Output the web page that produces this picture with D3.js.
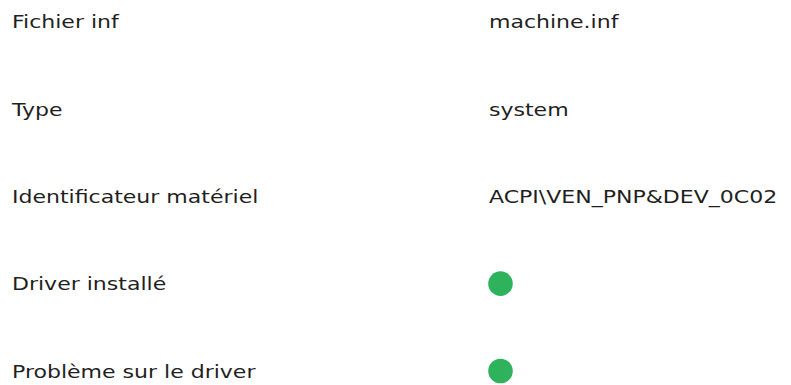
<!DOCTYPE html>
<html><head><meta charset="utf-8">
<script src="https://cdn.jsdelivr.net/npm/d3@7"></script>
<style>body{margin:0;background:#fff}svg{display:block}</style>
</head><body>
<svg id="c" width="791" height="385"></svg>
<script>
const labels = ["Fichier inf","Type","Identificateur matériel","Driver installé","Problème sur le driver"];
const values = ["machine.inf","system","ACPI\\VEN_PNP&DEV_0C02", true, true];

const svg = d3.select("#c");
const y = d3.scalePoint().domain(labels).range([21.5, 371]);
const x = d3.scaleOrdinal().domain(["label","value"]).range([12, 489]);

const font = "'DejaVu Sans', sans-serif";
const stretch = 1.19;
const rows = svg.append("g").selectAll("g.row")
  .data(labels.map((l,i)=>({l, v: values[i]}))).join("g").attr("class","row");

function styleText(sel){
  sel.attr("font-family", font).attr("font-size", 18.5).attr("fill","#1f1f1f")
     .attr("dy","0.36em");
  sel.each(function(){
    const w = this.getComputedTextLength();
    d3.select(this).attr("textLength", w*stretch).attr("lengthAdjust","spacingAndGlyphs");
  });
}

rows.append("text")
  .attr("x", x("label")).attr("y", d=>y(d.l))
  .text(d=>d.l).call(styleText);

rows.filter(d=>typeof d.v === "string").append("text")
  .attr("x", x("value")).attr("y", d=>y(d.l))
  .text(d=>d.v).call(styleText);

rows.filter(d=>d.v === true).append("circle")
  .attr("cx", x("value")+11.5).attr("cy", d=>y(d.l)).attr("r", 12.3)
  .attr("fill","#2eb35c");
</script>
</body></html>
